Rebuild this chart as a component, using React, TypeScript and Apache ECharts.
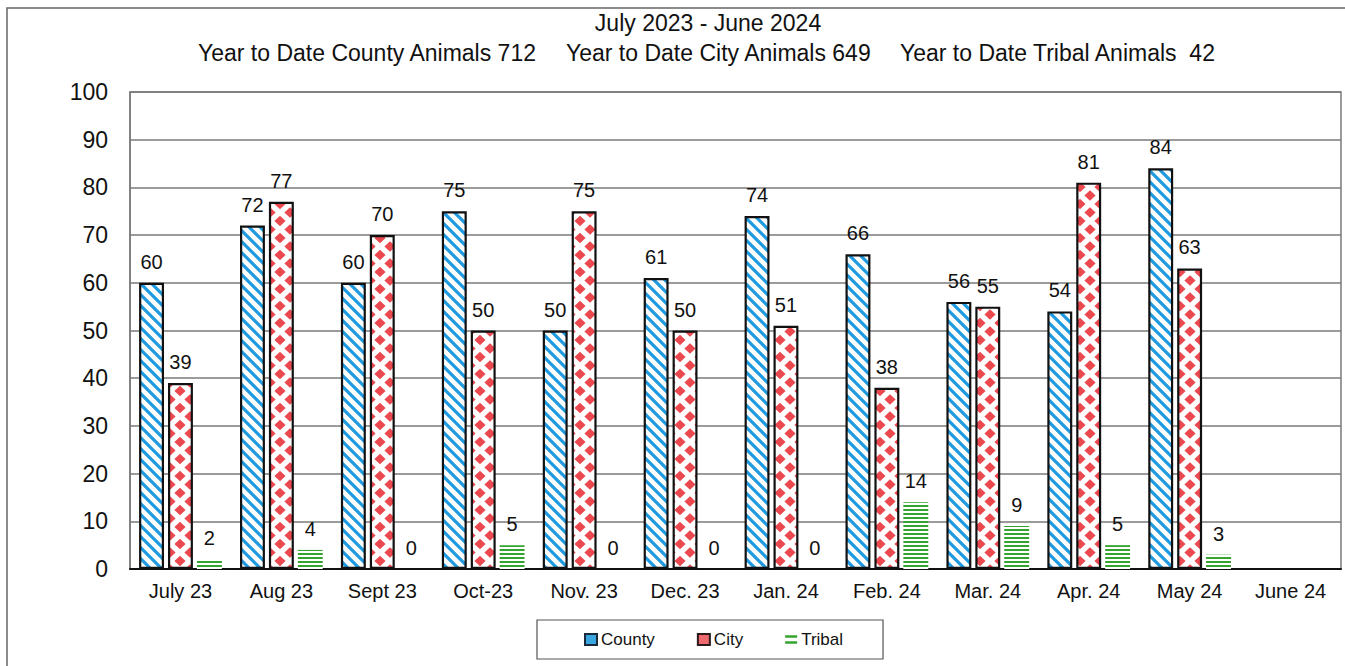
import React, { useEffect, useRef } from "react";
import * as echarts from "echarts";

const categories = ["July 23", "Aug 23", "Sept 23", "Oct-23", "Nov. 23", "Dec. 23", "Jan. 24", "Feb. 24", "Mar. 24", "Apr. 24", "May 24", "June 24"];
const countyValues: (number | null)[] = [60, 72, 60, 75, 50, 61, 74, 66, 56, 54, 84, null];
const cityValues: (number | null)[] = [39, 77, 70, 50, 75, 50, 51, 38, 55, 81, 63, null];
const tribalValues: (number | null)[] = [2, 4, 0, 5, 0, 0, 0, 14, 9, 5, 3, null];
const yTicks = { min: 0, max: 100, interval: 10 };
const titleLine1 = "July 2023 - June 2024";
const titleParts = [
  "Year to Date County Animals 712",
  "Year to Date City Animals 649",
  "Year to Date Tribal Animals  42",
];

const FONT = "'Liberation Sans', Arial, sans-serif";
const BLUE = "#1f9ae0";
const RED = "#ea4950";
const GREEN = "#35a42f";

function makeCanvas(w: number, h: number, draw: (ctx: CanvasRenderingContext2D) => void) {
  const c = document.createElement("canvas");
  c.width = w;
  c.height = h;
  const ctx = c.getContext("2d")!;
  ctx.fillStyle = "#ffffff";
  ctx.fillRect(0, 0, w, h);
  draw(ctx);
  return c;
}

export default function App() {
  const ref = useRef<HTMLDivElement>(null);
  useEffect(() => {
    if (!ref.current) return;
    const chart = echarts.init(ref.current, undefined, { renderer: "svg" });

    const P = 11;
    const countyCanvas = makeCanvas(P, P, (ctx) => {
      ctx.strokeStyle = BLUE;
      ctx.lineWidth = 3.2;
      ctx.beginPath();
      ctx.moveTo(-2, -2);
      ctx.lineTo(P + 2, P + 2);
      ctx.moveTo(-2, P - 2);
      ctx.lineTo(2, P + 2);
      ctx.moveTo(P - 2, -2);
      ctx.lineTo(P + 2, 2);
      ctx.stroke();
    });
    const cityCanvas = makeCanvas(20, 17, (ctx) => {
      ctx.fillStyle = RED;
      const dia = (cx: number, cy: number) => {
        ctx.beginPath();
        ctx.moveTo(cx, cy - 5.2);
        ctx.lineTo(cx + 5.6, cy);
        ctx.lineTo(cx, cy + 5.2);
        ctx.lineTo(cx - 5.6, cy);
        ctx.closePath();
        ctx.fill();
      };
      dia(0, 0);
      dia(20, 0);
      dia(0, 17);
      dia(20, 17);
      dia(10, 8.5);
    });
    const tribalCanvas = makeCanvas(8, 4, (ctx) => {
      ctx.fillStyle = GREEN;
      ctx.fillRect(0, 1, 8, 2);
    });

    const countyPattern: any = { image: countyCanvas, repeat: "repeat", imageWidth: P, imageHeight: P };
    const cityPattern: any = { image: cityCanvas, repeat: "repeat", imageWidth: 20, imageHeight: 17 };
    const tribalPattern: any = { image: tribalCanvas, repeat: "repeat", imageWidth: 8, imageHeight: 4 };

    const label = {
      show: true,
      position: "top",
      distance: 11,
      fontSize: 20,
      fontFamily: FONT,
      color: "#111",
    };

    const titleStyle = { fontSize: 23, fontFamily: FONT, fill: "#111", textVerticalAlign: "middle" };

    const option: any = {
      animation: false,
      backgroundColor: "#ffffff",
      textStyle: { fontFamily: FONT },
      graphic: [
        {
          type: "rect",
          silent: true,
          shape: { x: 7, y: 8, width: 1400, height: 700 },
          style: { fill: "none", stroke: "#666", lineWidth: 1.5 },
        },
        {
          type: "text",
          x: 708,
          y: 23,
          style: { ...titleStyle, text: titleLine1, textAlign: "center" },
        },
        {
          type: "text",
          x: 198,
          y: 53,
          style: { ...titleStyle, text: titleParts[0], textAlign: "left" },
        },
        {
          type: "text",
          x: 566,
          y: 53,
          style: { ...titleStyle, text: titleParts[1], textAlign: "left" },
        },
        {
          type: "text",
          x: 900,
          y: 53,
          style: { ...titleStyle, text: titleParts[2], textAlign: "left" },
        },
      ],
      grid: {
        left: 130,
        right: 4,
        top: 92,
        bottom: 97,
        show: true,
        borderColor: "#7a7a7a",
        borderWidth: 1.5,
        backgroundColor: "transparent",
      },
      legend: {
        left: 537,
        top: 620,
        padding: [11, 40, 11, 47],
        itemGap: 42,
        itemWidth: 12,
        itemHeight: 11,
        borderColor: "#555",
        borderWidth: 1.2,
        textStyle: { fontSize: 17, fontFamily: FONT, color: "#111", padding: [0, 0, 0, -1] },
        data: [
          { name: "County", icon: "rect", itemStyle: { color: "#3aa6e0", borderColor: "#1a2a3a", borderWidth: 2 } },
          { name: "City", icon: "rect", itemStyle: { color: "#ee6a6f", borderColor: "#2a1a1a", borderWidth: 2 } },
          { name: "Tribal", icon: "path://M0,0H10V2H0Z M0,5H10V7H0Z", itemStyle: { color: GREEN, borderWidth: 0 } },
        ],
      },
      xAxis: {
        type: "category",
        data: categories,
        axisLine: { lineStyle: { color: "#111", width: 2 } },
        axisTick: { show: false },
        axisLabel: { fontSize: 20, fontFamily: FONT, color: "#111", margin: 12 },
      },
      yAxis: {
        type: "value",
        min: yTicks.min,
        max: yTicks.max,
        interval: yTicks.interval,
        axisLine: { show: true, lineStyle: { color: "#7a7a7a", width: 1.5 } },
        axisTick: { show: false },
        splitLine: { lineStyle: { color: "#7a7a7a", width: 1.5 } },
        axisLabel: { fontSize: 23, fontFamily: FONT, color: "#111", margin: 22 },
      },
      series: [
        {
          name: "County",
          type: "bar",
          data: countyValues,
          barCategoryGap: "18%",
          barGap: "16%",
          itemStyle: { color: countyPattern, borderColor: "#111", borderWidth: 2.2 },
          label,
        },
        {
          name: "City",
          type: "bar",
          data: cityValues,
          barCategoryGap: "18%",
          barGap: "16%",
          itemStyle: { color: cityPattern, borderColor: "#111", borderWidth: 2.2 },
          label,
        },
        {
          name: "Tribal",
          type: "bar",
          data: tribalValues,
          barCategoryGap: "18%",
          barGap: "16%",
          itemStyle: { color: tribalPattern, borderWidth: 0 },
          label,
        },
      ],
    };
    chart.setOption(option);
    return () => chart.dispose();
  }, []);

  return (
    <div
      ref={ref}
      style={{ position: "fixed", left: 0, top: 0, width: 1345, height: 666, background: "#fff" }}
    />
  );
}
